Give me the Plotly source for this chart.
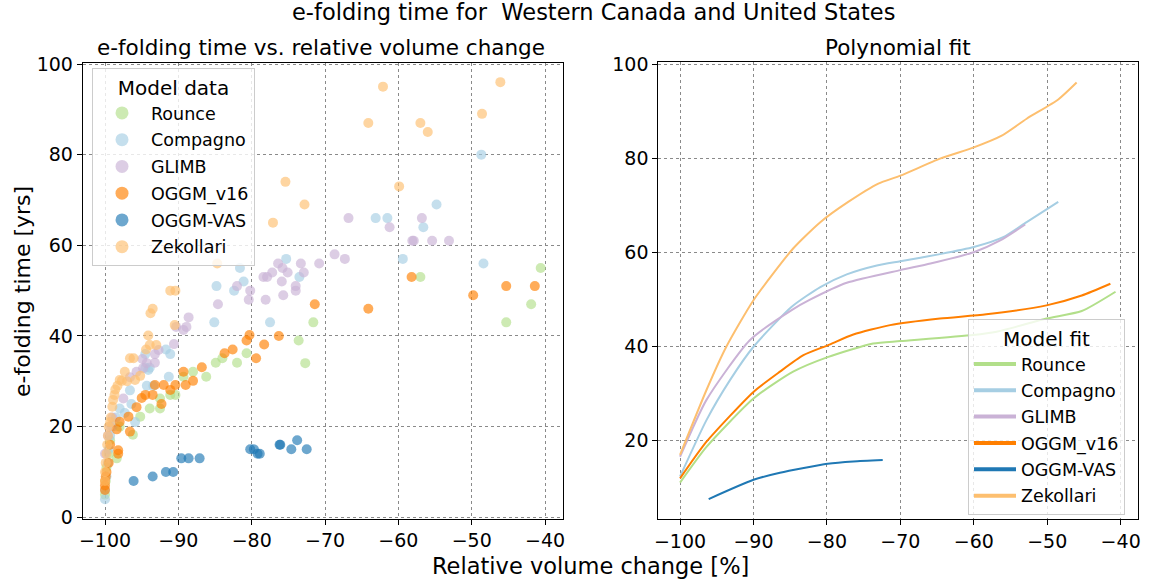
import plotly.graph_objects as go

W, H = 1153, 585

models = ["Rounce", "Compagno", "GLIMB", "OGGM_v16", "OGGM-VAS", "Zekollari"]
colors = {"Rounce": "#b2df8a", "Compagno": "#a6cee3", "GLIMB": "#cab2d6",
          "OGGM_v16": "#ff7f00", "OGGM-VAS": "#1f78b4", "Zekollari": "#fdbf6f"}

# ---- scatter data: (relative volume change %, e-folding time yrs)
rounce_x = [-100, -99.9, -99.8, -99.5, -98.4, -99.3, -98, -96.2, -95.2, -93.9, -92.5, -92.5, -91.1, -90.4,
            -89.3, -88, -86.2, -84.9, -84, -82, -80.7, -73.6, -72.7, -71.6, -57, -45.3, -41.9, -40.6]
rounce_y = [5, 8, 11, 14, 13, 17, 20, 18.2, 22.2, 24, 24, 26.2, 27, 27,
            31, 32.1, 31, 34.1, 35.1, 34.1, 36.2, 39, 34, 43, 53, 43, 47, 55]

compagno_x = [-100, -100, -99.8, -99.6, -99.5, -99.3, -99, -98.5, -98, -97.3, -96.4, -95.9, -96.6, -94.3,
              -93.4, -94.5, -94.1, -93.9, -94.5, -91.7, -91.1, -91.3, -85.1, -84.8, -82.4, -81.6, -81.1,
              -77.5, -75.3, -73.5, -63.1, -61.5, -59.4, -56.6, -54.8, -48.7, -48.4]
compagno_y = [4, 6, 9, 12, 15, 18, 20, 22, 24, 23, 25, 21, 28, 29,
              29, 33, 32.5, 33, 36, 37, 36, 31, 43, 51, 50, 55, 52,
              43, 57, 53, 66, 66, 57, 64, 69, 80, 56]

glimb_x = [-100, -99.6, -99.3, -99, -97.5, -96.6, -95.7, -94.8, -94.9, -94.3, -93.2, -93.2, -92.7, -90.6,
           -90.3, -88.9, -89.3, -88.6, -84.6, -82, -80.2, -80.4, -78.1, -78.4, -77.9, -77.2, -76.4, -75.8,
           -75.1, -75.9, -75.7, -74, -74, -73.3, -72.9, -70.8, -68.7, -67.3, -66.8, -61.2, -58.1, -57.9,
           -56.8, -55.4, -53.1]
glimb_y = [14, 18, 20, 22, 26.2, 30.9, 32.1, 32.9, 34.9, 34, 34.1, 36, 36.9, 38.2,
           42, 42, 41.3, 44.1, 47, 51, 50, 48, 48, 53, 53, 54, 56, 55,
           54, 52, 49, 51, 50, 56, 54, 56, 58, 57, 66, 64, 61, 61,
           66, 61, 61]

oggm16_x = [-100, -100, -100, -99.9, -99.8, -99.5, -98.2, -98.2, -99.3, -98.4, -96.6, -98, -96.8, -95.7,
            -95, -94.5, -93.5, -92.3, -93.2, -92, -91.1, -90.4, -89, -89.3, -88, -86.8, -83.7, -82.6,
            -80.7, -80.3, -79.4, -78.3, -76.3, -71.4, -64.1, -58.2, -49.8, -45.3, -41.4]
oggm16_y = [6, 7, 8, 9, 10, 12, 14, 14.8, 16, 19.4, 18.9, 21.1, 22.2, 24.3,
            26.3, 27, 27, 25, 29.2, 29.2, 28.1, 29.2, 29.2, 32.1, 30.1, 33.1, 36.2, 37,
            39, 40.2, 35.1, 38.1, 40, 47, 46, 53, 49, 51, 51]

vas_x = [-96.1, -93.5, -91.7, -90.7, -89.6, -88.6, -87.1, -80.2, -79.7, -79.2, -78.9, -76.2, -76.1,
         -74.6, -73.8, -72.5]
vas_y = [8, 9, 10, 10, 13, 13, 13, 15, 15, 14, 14, 16, 16, 15, 17, 15]

zek_x = [-100, -100, -99.9, -99.8, -99.7, -99.6, -99.5, -99.3, -99.2, -99.0, -98.9, -98.7, -98.6, -98.3,
         -98, -97.7, -97.3, -97, -96.6, -96.1, -95.9, -95.2, -94.4, -94.1, -93.9, -93, -93.8, -93.5,
         -91.1, -90.4, -90.5, -84.7, -77.1, -75.4, -72.8, -64.1, -62.1, -59.9, -57, -56, -48.6, -46.1]
zek_y = [8, 10, 12, 14, 16, 18, 20, 21, 22, 24.4, 25.9, 27, 28.2, 29,
         30.3, 30.1, 32.1, 30, 35.1, 35.1, 30.3, 31.2, 37, 40.1, 38, 38, 45, 46,
         50, 50, 42.4, 56, 65, 74, 69, 87, 95, 73, 87, 85, 89, 96]

scatter = {"Rounce": (rounce_x, rounce_y), "Compagno": (compagno_x, compagno_y),
           "GLIMB": (glimb_x, glimb_y), "OGGM_v16": (oggm16_x, oggm16_y),
           "OGGM-VAS": (vas_x, vas_y), "Zekollari": (zek_x, zek_y)}

# ---- polynomial fit curves
fit_rounce_x = [-100, -96.4, -90, -84.6, -79.9, -73.7, -70, -60.1, -56.9, -50.1, -45.3, -40.7]
fit_rounce_y = [11, 18.6, 28.9, 34.6, 37.7, 40.6, 41.1, 42.4, 43.1, 45.9, 47.5, 51.6]
fit_compagno_x = [-100, -96.4, -93.2, -90, -84.8, -80.9, -77.3, -73.2, -70, -64.6, -60, -56, -52.8, -48.5]
fit_compagno_y = [12.3, 24.3, 32.8, 39.9, 48.4, 52.6, 55.3, 57.2, 58.1, 59.6, 61.1, 63.2, 66.4, 70.7]
fit_glimb_x = [-100, -96.4, -90.5, -84.8, -82.3, -77.3, -70, -65.9, -60, -56.4, -53]
fit_glimb_y = [16.5, 28.6, 41.3, 47.7, 49.9, 53.5, 56.2, 57.6, 60, 62.5, 65.9]
fit_oggm16_x = [-100, -96.4, -90, -86.4, -83.2, -79.9, -76.4, -71.4, -64.6, -58.3, -50.1, -45.3, -41.4]
fit_oggm16_y = [11.9, 19.7, 30.3, 34.6, 38.1, 40.2, 42.5, 44.5, 45.9, 46.8, 48.7, 50.8, 53.3]
fit_vas_x = [-96.1, -90, -86.4, -79.9, -76.4, -72.4]
fit_vas_y = [7.5, 11.6, 13.1, 15, 15.5, 15.8]
fit_zek_x = [-100, -96.4, -93.7, -90, -84.6, -80.9, -77.1, -73, -70, -64.6, -60, -56.2, -52.8, -48.5, -46]
fit_zek_y = [16.9, 30.7, 39.9, 49.8, 60.8, 66.4, 70.7, 74.6, 76.3, 79.9, 82.3, 84.8, 88.4, 92.5, 96.1]

fits = {"Rounce": (fit_rounce_x, fit_rounce_y), "Compagno": (fit_compagno_x, fit_compagno_y),
        "GLIMB": (fit_glimb_x, fit_glimb_y), "OGGM_v16": (fit_oggm16_x, fit_oggm16_y),
        "OGGM-VAS": (fit_vas_x, fit_vas_y), "Zekollari": (fit_zek_x, fit_zek_y)}

x_ticks = [-100, -90, -80, -70, -60, -50, -40]

FONT = "DejaVu Sans"
fig = go.Figure()

for i, m in enumerate(models):
    xs, ys = scatter[m]
    fig.add_trace(go.Scatter(x=xs, y=ys, mode="markers", xaxis="x", yaxis="y",
                             marker=dict(size=10, color=colors[m], opacity=0.65, line=dict(width=0)),
                             showlegend=False, hoverinfo="x+y", name=m))
    fig.add_trace(go.Scatter(x=[None], y=[None], mode="markers", xaxis="x", yaxis="y",
                             marker=dict(size=13, color=colors[m], opacity=0.65, line=dict(width=0)),
                             name=m, legend="legend", showlegend=True, legendgroup="d%d" % i))

for i, m in enumerate(models):
    xs, ys = fits[m]
    fig.add_trace(go.Scatter(x=xs, y=ys, mode="lines", xaxis="x2", yaxis="y2",
                             line=dict(color=colors[m], width=2, shape="spline", smoothing=0.6),
                             showlegend=False, name=m))
    fig.add_trace(go.Scatter(x=[None], y=[None], mode="lines", xaxis="x2", yaxis="y2",
                             line=dict(color=colors[m], width=4),
                             name=m, legend="legend2", showlegend=True, legendgroup="f%d" % i))

axis_common = dict(showline=True, mirror=True, linecolor="black", linewidth=1,
                   ticks="outside", ticklen=5, tickcolor="black", tickwidth=1,
                   showgrid=True, gridcolor="#8a8a8a", griddash="dot", gridwidth=1,
                   zeroline=False, automargin=False,
                   tickfont=dict(family=FONT, size=19, color="black"))

def px2x(p):
    return p / W

def px2y(p):
    return 1 - p / H

fig.update_layout(
    width=W, height=H, margin=dict(l=0, r=0, t=0, b=0, pad=0, autoexpand=False),
    paper_bgcolor="white", plot_bgcolor="white",
    font=dict(family=FONT, color="black"),
    xaxis=dict(domain=[px2x(82.7), px2x(562.7)], anchor="y", range=[-103.04, -37.6],
               tickvals=x_ticks, ticktext=["\u2212" + str(abs(v)) for v in x_ticks], **axis_common),
    yaxis=dict(domain=[px2y(518.5), px2y(62.5)], anchor="x", range=[-0.27, 100.33],
               tickvals=[0, 20, 40, 60, 80, 100], **axis_common),
    xaxis2=dict(domain=[px2x(658.3), px2x(1138.3)], anchor="y2", range=[-102.96, -37.6],
                tickvals=x_ticks, ticktext=["\u2212" + str(abs(v)) for v in x_ticks], **axis_common),
    yaxis2=dict(domain=[px2y(519.3), px2y(62.3)], anchor="x2", range=[3.2, 100.4],
                tickvals=[20, 40, 60, 80, 100], **axis_common),
    legend=dict(x=px2x(92), y=px2y(68), xanchor="left", yanchor="top",
                bgcolor="rgba(255,255,255,0.8)", bordercolor="#cccccc", borderwidth=1,
                font=dict(family=FONT, size=17.5, color="black"),
                title=dict(text="Model data", font=dict(family=FONT, size=20), side="top center"),
                itemwidth=48, tracegroupgap=1),
    legend2=dict(x=px2x(968), y=px2y(319), xanchor="left", yanchor="top",
                 bgcolor="rgba(255,255,255,0.8)", bordercolor="#cccccc", borderwidth=1,
                 font=dict(family=FONT, size=17.5, color="black"),
                 title=dict(text="Model fit", font=dict(family=FONT, size=20), side="top center"),
                 itemwidth=42, tracegroupgap=0.6),
    annotations=[
        dict(text="e-folding time for  Western Canada and United States", x=px2x(593), y=px2y(12),
             xref="paper", yref="paper", showarrow=False, xanchor="center", yanchor="middle",
             font=dict(family=FONT, size=22.5)),
        dict(text="e-folding time vs. relative volume change", x=px2x(321.5), y=px2y(47),
             xref="paper", yref="paper", showarrow=False, xanchor="center", yanchor="middle",
             font=dict(family=FONT, size=21.5)),
        dict(text="Polynomial fit", x=px2x(898.3), y=px2y(47),
             xref="paper", yref="paper", showarrow=False, xanchor="center", yanchor="middle",
             font=dict(family=FONT, size=21.5)),
        dict(text="Relative volume change [%]", x=px2x(590), y=px2y(566),
             xref="paper", yref="paper", showarrow=False, xanchor="center", yanchor="middle",
             font=dict(family=FONT, size=22.5)),
        dict(text="e-folding time [yrs]", x=px2x(22), y=px2y(292), textangle=-90,
             xref="paper", yref="paper", showarrow=False, xanchor="center", yanchor="middle",
             font=dict(family=FONT, size=22)),
    ],
)

fig.write_html("out.html")
